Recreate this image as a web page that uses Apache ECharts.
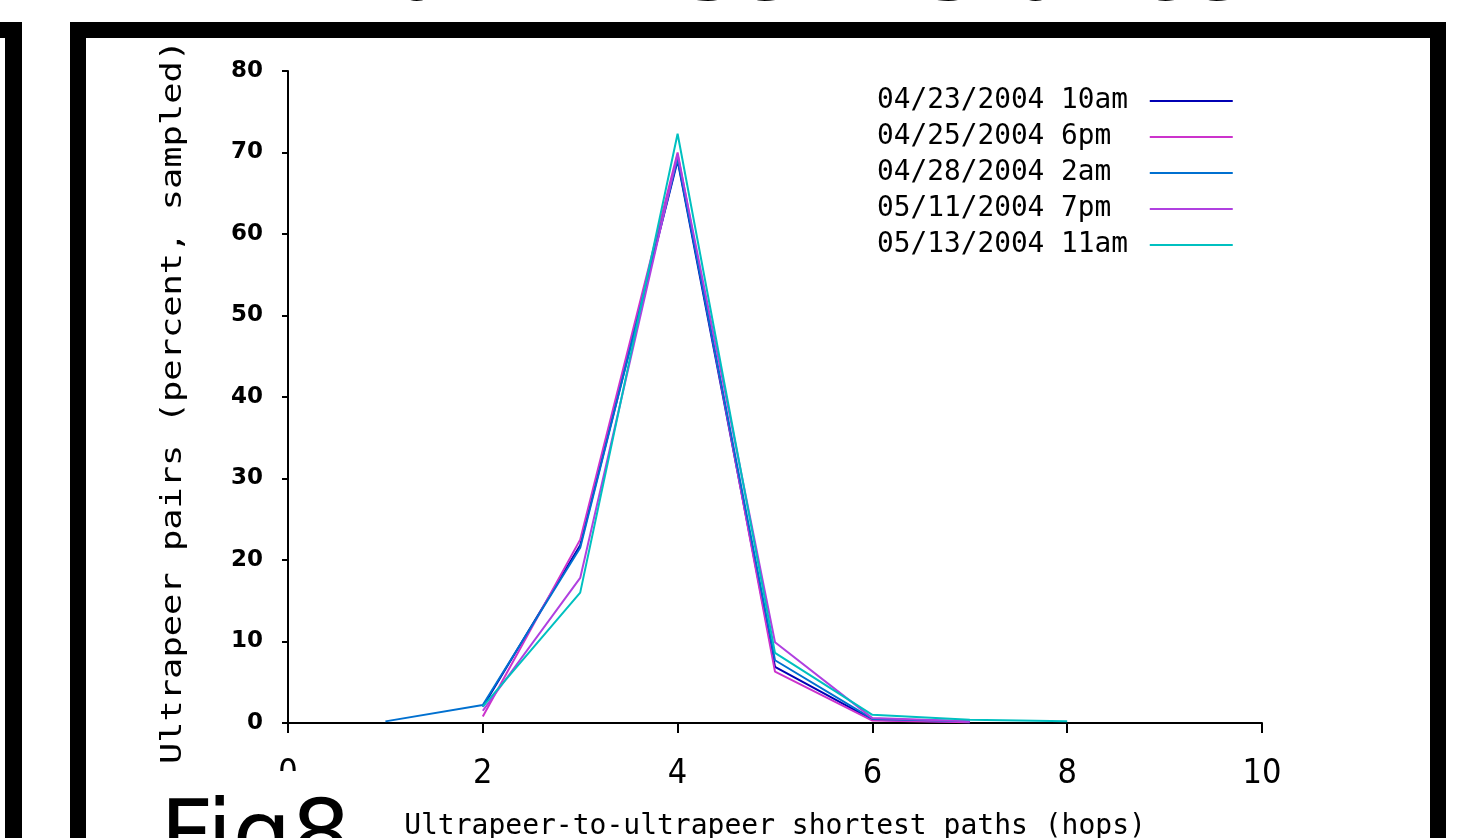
<!DOCTYPE html>
<html><head><meta charset="utf-8">
<script src="https://cdn.jsdelivr.net/npm/echarts@6/dist/echarts.min.js"></script>
<style>html,body{margin:0;padding:0;background:#fff;overflow:hidden}#c{width:1462px;height:838px}</style>
</head><body><div id="c"></div>
<script>
// ---- data ----
var seriesNames = ['04/23/2004 10am','04/25/2004 6pm','04/28/2004 2am','05/11/2004 7pm','05/13/2004 11am'];
var seriesColors = ['#0000b4','#cc33cc','#0070d0','#b040e0','#00c0c0'];
var hops1 = [2,3,4,5,6,7];
var vals1 = [2.0,21.8,69.0,6.9,0.4,0.1];
var hops2 = [2,3,4,5,6,7];
var vals2 = [0.8,22.5,70.0,6.3,0.3,0.1];
var hops3 = [1,2,3,4,5,6,7];
var vals3 = [0.2,2.2,21.5,69.2,7.7,0.5,0.2];
var hops4 = [2,3,4,5,6,7];
var vals4 = [1.5,17.8,69.8,9.9,0.6,0.2];
var hops5 = [2,3,4,5,6,7,8];
var vals5 = [2.0,16.0,72.3,8.6,1.0,0.4,0.2];
var xTicks = [0,2,4,6,8,10];
var yTicks = [0,10,20,30,40,50,60,70,80];
var titleText = 'Pair-Wise Distance';
var figLabel = 'Fig8';
var xTitle = 'Ultrapeer-to-ultrapeer shortest paths (hops)';
var yTitle = 'Ultrapeer pairs (percent, sampled)';

function pairs(h,v){return h.map(function(x,i){return [x,v[i]];});}
var allH=[hops1,hops2,hops3,hops4,hops5], allV=[vals1,vals2,vals3,vals4,vals5];

var chart = echarts.init(document.getElementById('c'), null, {renderer:'canvas'});
var series = seriesNames.map(function(n,i){
  return {name:n,type:'line',data:pairs(allH[i],allV[i]),symbol:'none',
    lineStyle:{color:seriesColors[i],width:2},itemStyle:{color:seriesColors[i]},z:2+i,animation:false};
});
var black='#000';
chart.setOption({
  animation:false,
  backgroundColor:'#fff',
  grid:{left:288,width:974,top:71,height:652,containLabel:false,outerBoundsMode:'none'},
  legend:{orient:'vertical',left:872,top:82,align:'right',icon:'rect',itemWidth:83,itemHeight:2,itemGap:8,
    data:seriesNames,selectedMode:false,
    formatter:function(n){var s=n;while(s.length<16)s+=' ';return s;},
    textStyle:{fontFamily:'DejaVu Sans Mono',fontSize:27.8,color:'#000',lineHeight:28,padding:0}},
  xAxis:{type:'value',min:0,max:10,interval:2,
    name:xTitle,nameLocation:'middle',nameGap:90,
    nameTextStyle:{fontFamily:'DejaVu Sans Mono',fontSize:28,color:'#000',verticalAlign:'top'},
    axisLine:{lineStyle:{color:black,width:2}},
    axisTick:{show:true,length:10,lineStyle:{color:black,width:2}},
    axisLabel:{margin:34,fontFamily:"'Liberation Sans Narrow','DejaVu Sans Condensed','Liberation Sans'",fontSize:34,color:'#000',
      formatter:function(v){return xTicks.indexOf(v)>=0?String(v):'';}},
    splitLine:{show:false}},
  yAxis:{type:'value',min:0,max:80,interval:10,
    axisLine:{show:true,lineStyle:{color:black,width:2}},
    axisTick:{show:true,length:6,lineStyle:{color:black,width:2}},
    axisLabel:{margin:25,fontFamily:'DejaVu Sans',fontWeight:'bold',fontSize:23,color:'#000',
      formatter:function(v){return yTicks.indexOf(v)>=0?String(v):'';}},
    splitLine:{show:false}},
  series:series,
  graphic:[
    {type:'text',x:790,y:-22,z:50,style:{text:titleText,font:'bold 86px "DejaVu Sans"',fill:'#000',textAlign:'center',textVerticalAlign:'middle'}},
    {type:'text',x:173,y:402,rotation:Math.PI/2,scaleX:1.22,scaleY:1,z:40,
      style:{text:yTitle,font:'29px "DejaVu Sans Mono"',fill:'#000',textAlign:'center',textVerticalAlign:'middle'}},
    {type:'rect',shape:{x:86,y:771,width:309,height:67},style:{fill:'#fff'},z:60},
    {type:'text',x:160,y:795,z:61,style:{text:figLabel,font:'93px "DejaVu Sans"',fill:'#000'}},
    {type:'rect',shape:{x:70,y:22,width:1376,height:16},style:{fill:'#000'},z:70},
    {type:'rect',shape:{x:70,y:22,width:16,height:816},style:{fill:'#000'},z:70},
    {type:'rect',shape:{x:1430,y:22,width:16,height:816},style:{fill:'#000'},z:70},
    {type:'rect',shape:{x:0,y:22,width:22,height:16},style:{fill:'#000'},z:70},
    {type:'rect',shape:{x:5,y:22,width:17,height:816},style:{fill:'#000'},z:70}
  ]
});
</script></body></html>
